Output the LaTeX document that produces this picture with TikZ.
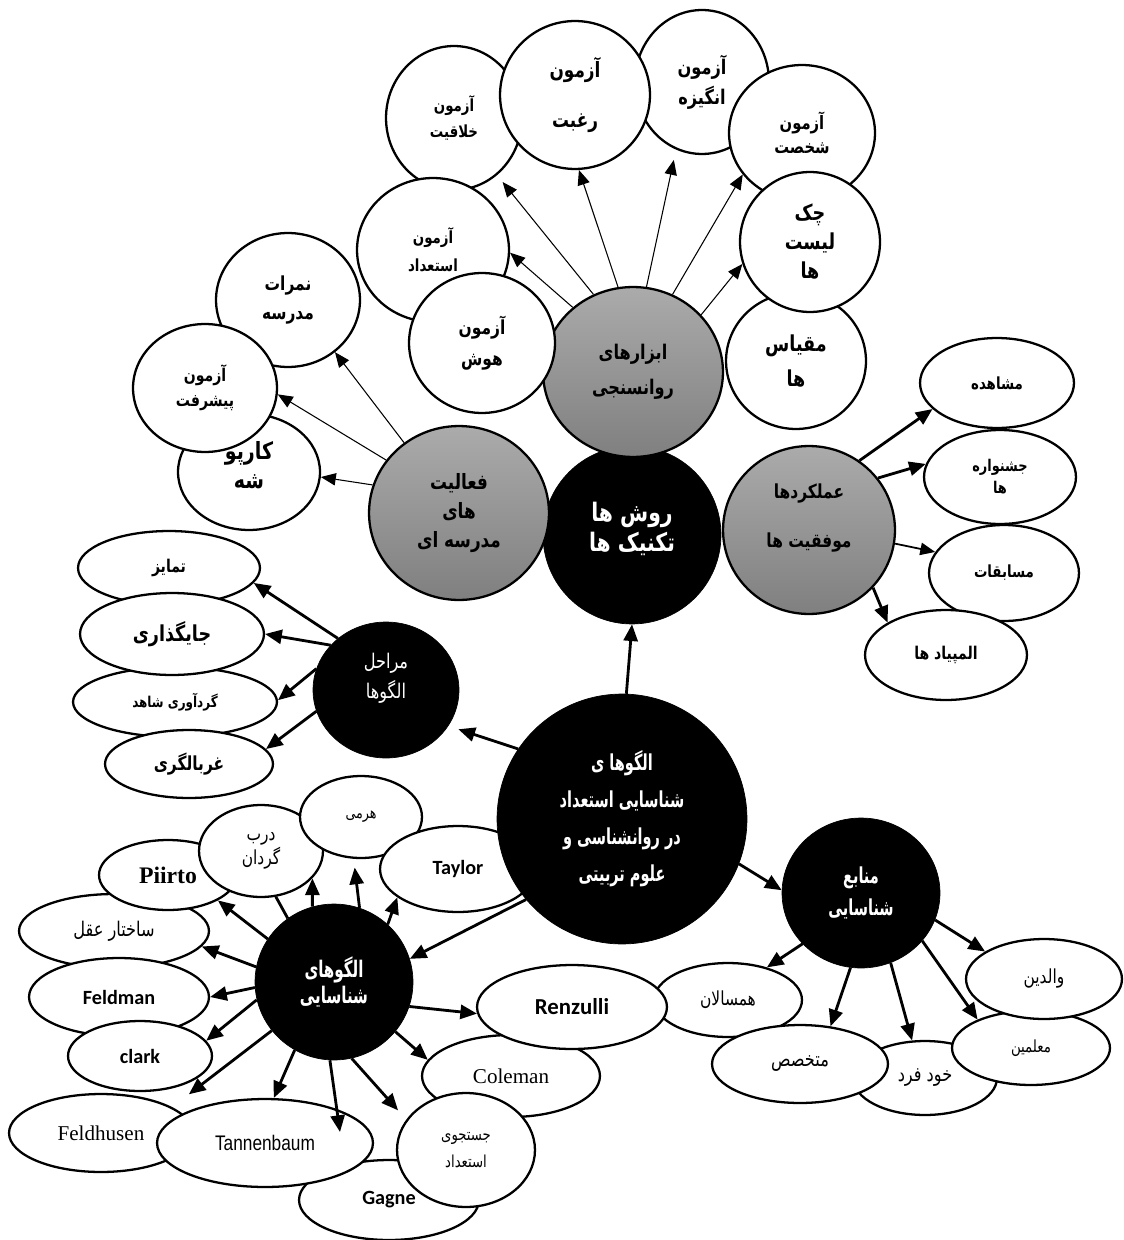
\documentclass[tikz,border=0pt]{standalone}
\usepackage{fontspec}
\setmainfont{Liberation Serif}
\newfontfamily\arabicfont[Script=Arabic, FakeStretch=0.8]{DejaVu Sans}
\newfontfamily\arabicnarrow[Script=Arabic, FakeStretch=0.66]{DejaVu Sans}
\newfontfamily\calfont{Carlito}
\newfontfamily\narrowfont[FakeStretch=0.82]{Liberation Sans}
\TeXXeTstate=1
\usetikzlibrary{arrows.meta, shapes.geometric}
\newcommand{\fa}[1]{\beginR #1\endR}
\newcommand{\fab}[2]{\arabicfont\bfseries\fontsize{#1}{#2}\selectfont}
\newcommand{\far}[2]{\arabicfont\fontsize{#1}{#2}\selectfont}
\newcommand{\fan}[2]{\arabicnarrow\bfseries\fontsize{#1}{#2}\selectfont}
\newcommand{\pxlen}{0.04cm}
\tikzstyle{bubble} = [% white ellipse node
  ellipse,
  draw=black,
  line width=1.3pt,
  fill=white,
  inner sep=0pt,
  align=center
  ]
\tikzstyle{grayhub} = [% shaded hub node
  ellipse,
  draw=black,
  line width=1.3pt,
  top color=black!33,
  bottom color=black!50,
  inner sep=0pt,
  align=center
  ]
\tikzstyle{blackhub} = [% black hub node
  ellipse,
  draw=black,
  fill=black,
  text=white,
  inner sep=0pt,
  align=center
  ]
\tikzstyle{thinarrow} = [% thin arrow format
  line width=0.6pt,
  -{Triangle[length=8.5pt,width=7pt]}
  ]
\tikzstyle{arrow} = [% thick arrow format
  line width=1.6pt,
  -{Triangle[length=9.5pt,width=8pt]}
  ]
\tikzstyle{plainline} = [% line with no tip
  line width=1.6pt
  ]
\tikzset{rxy/.style 2 args={minimum width=#1*\pxlen, minimum height=#2*\pxlen}}

\begin{document}
\begin{tikzpicture}[x=0.02cm, y=-0.02cm]
\useasboundingbox (0,0) rectangle (1123,1240);

%%% Nodes
% psychometric tools
\node[bubble, rxy={68}{72}, font=\fab{9.5}{15}] (xalaq) at (454,118) {\fa{آزمون}\\\fa{خلاقیت}};
\node[bubble, rxy={67}{72}, font=\fab{11.5}{17}] (angize) at (702,82) {\fa{آزمون}\\\fa{انگیزه}};
\node[bubble, rxy={75}{74}, font=\fab{12}{29}] (raqbat) at (575,95) {\fa{آزمون}\\\fa{رغبت}};
\node[bubble, rxy={73}{68}, font=\fab{10.5}{14}] (shakh) at (802,133) {\fa{آزمون}\\\fa{شخصت}};
\node[bubble, rxy={76}{72}, font=\fab{9.5}{16}] (estedad) at (433,250) {\fa{آزمون}\\\fa{استعداد}};
\node[blackhub, rxy={89}{89}, font=\fab{14.5}{17}, text depth=9pt] (ravesh) at (632,535) {\fa{روش ها}\\\fa{تکنیک ها}};
\node[grayhub, rxy={90}{85}, font=\fab{11.5}{20}] (abzar) at (633,372) {\fa{ابزارهای}\\\fa{روانسنجی}};
\node[bubble, rxy={73}{70}, font=\fab{11}{17.5}] (hush) at (482,343) {\fa{آزمون}\\\fa{هوش}};
\node[bubble, rxy={70}{68}, font=\fab{12.5}{20}] (meqyas) at (796,361) {\fa{مقیاس}\\\fa{ها}};
\node[bubble, rxy={70}{70}, font=\fab{12.5}{16.5}] (chek) at (810,242) {\fa{چک}\\\fa{لیست}\\\fa{ها}};

% school activities
\node[bubble, rxy={71}{58}, font=\fab{13.5}{17}, text depth=8pt] (karpushe) at (249,472) {\fa{کارپو}\\\fa{شه}};
\node[bubble, rxy={72}{67}, font=\fab{11}{17}] (nomre) at (288,300) {\fa{نمرات}\\\fa{مدرسه}};
\node[bubble, rxy={72}{64}, font=\fab{10}{14}] (pishraft) at (205,388) {\fa{آزمون}\\\fa{پیشرفت}};
\node[grayhub, rxy={90}{87}, font=\fab{12}{16.5}] (faal) at (459,513) {\fa{فعالیت}\\\fa{های}\\\fa{مدرسه ای}};

% performances
\node[grayhub, rxy={86}{84}, font=\fab{11}{28}, text depth=16pt] (amal) at (809,530) {\fa{عملکردها}\\\fa{موفقیت ها}};
\node[bubble, rxy={77}{45}, font=\fab{9.5}{12}] (moshahede) at (997,383) {\fa{مشاهده}};
\node[bubble, rxy={76}{47}, font=\fab{9.2}{12.5}] (jashnvare) at (1000,477) {\fa{جشنواره}\\\fa{ها}};
\node[bubble, rxy={75}{48}, font=\fab{9.5}{12}] (mosabeqat) at (1004,573) {\fa{مسابقات}};
\node[bubble, rxy={81}{45}, font=\fab{10}{12}] (olympiad) at (946,655) {\fa{المپیاد ها}};

% stages
\node[bubble, rxy={91}{37}, font=\fab{10}{12}] (tamayoz) at (169,568) {\fa{تمایز}};
\node[bubble, rxy={102}{35}, font=\fab{8.5}{10}] (gerdavari) at (175,702) {\fa{گردآوری شاهد}};
\node[bubble, rxy={92}{41}, font=\fab{12.5}{14}] (jaygozari) at (172,634) {\fa{جایگذاری}};
\node[bubble, rxy={84}{34}, font=\fab{11}{13}] (qarbal) at (189,764) {\fa{غربالگری}};
\node[blackhub, rxy={73}{68}, font=\far{11.5}{17}, text depth=16pt] (marahel) at (386,690) {\fa{مراحل}\\\fa{الگوها}};

% identification models
\node[bubble, rxy={95}{37}, font=\far{11.5}{12}] (sakhtar) at (114,931) {\fa{ساختار عقل}};
\node[bubble, rxy={69}{35}, font=\rmfamily\bfseries\fontsize{13.5}{15}\selectfont] (piirto) at (168,875) {Piirto};
\node[bubble, rxy={62}{46}, font=\far{11}{12.5}] (darb) at (261,851) {\fa{درب}\\\fa{گردان}};
\node[bubble, rxy={61}{41}, font=\far{9}{9}] (hermi) at (361,817) {\fa{هرمی}};
\node[bubble, rxy={78}{43}, font=\calfont\bfseries\fontsize{11.5}{13}\selectfont] (taylor) at (458,869) {Taylor};
\node[bubble, rxy={90}{39}, font=\calfont\bfseries\fontsize{11.5}{13}\selectfont] (feldman) at (119,997) {Feldman};
\node[bubble, rxy={72}{35}, font=\calfont\bfseries\fontsize{11.5}{13}\selectfont] (clark) at (140,1056) {clark};
\node[bubble, rxy={92}{39}, font=\rmfamily\fontsize{12}{14}\selectfont] (feldhusen) at (101,1133) {Feldhusen};
\node[bubble, rxy={90}{40}, font=\calfont\bfseries\fontsize{11.5}{13}\selectfont] (gagne) at (389,1200) {Gagne};
\node[bubble, rxy={108}{44}, font=\narrowfont\fontsize{12}{14}\selectfont] (tannen) at (265,1143) {Tannenbaum};
\node[bubble, rxy={89}{41}, font=\rmfamily\fontsize{12}{14}\selectfont] (coleman) at (511,1076) {Coleman};
\node[bubble, rxy={69}{57}, font=\far{9.4}{15}] (jostoju) at (466,1150) {\fa{جستجوی}\\\fa{استعداد}};
\node[bubble, rxy={74}{37}, font=\far{11}{12}] (hamsalan) at (728,1000) {\fa{همسالان}};
\node[bubble, rxy={95}{42}, font=\calfont\bfseries\fontsize{13}{15}\selectfont] (renzulli) at (572,1007) {Renzulli};
\node[blackhub, rxy={125}{125}, font=\fan{12.5}{21}] (main) at (622,819) {\fa{الگوها ی}\\\fa{شناسایی استعداد}\\\fa{در روانشناسی و}\\\fa{علوم تربیتی}};
\node[blackhub, rxy={79}{78}, font=\fan{13}{14.5}] (olgu) at (334,982) {\fa{الگوهای}\\\fa{شناسایی}};
\coordinate (tannentip) at (340,1132);

% sources
\node[bubble, rxy={72}{37}, font=\far{11.5}{12}] (khod) at (925,1078) {\fa{خود فرد}};
\node[bubble, rxy={88}{39}, font=\far{11.5}{12}] (motakhasses) at (800,1064) {\fa{متخصص}};
\node[bubble, rxy={79}{37}, font=\far{9.5}{12}] (moallemin) at (1031,1048) {\fa{معلمین}};
\node[bubble, rxy={78}{40}, font=\far{11}{12}] (valedein) at (1044,979) {\fa{والدین}};
\node[blackhub, rxy={79}{75}, font=\fan{12.5}{18}] (manabe) at (861,893) {\fa{منابع}\\\fa{شناسایی}};

%%% Arrows
\draw[thinarrow, shorten >=5pt] (abzar.117.9) -- (xalaq.-53.6);
\draw[thinarrow] (abzar.133.6) -- (estedad.-2.2);
\draw[thinarrow] (abzar.100.4) -- (raqbat.-87);
\draw[thinarrow, shorten >=6pt] (abzar.81.8) -- (angize.-111);
\draw[thinarrow] (abzar.63.4) -- (shakh.215.2);
\draw[thinarrow] (abzar.40.7) -- (chek.198);

\draw[thinarrow] (faal.128.2) -- (nomre.-48.3);
\draw[thinarrow] (faal.144.7) -- (pishraft.-5.6);
\draw[thinarrow] (faal.162.2) -- (karpushe.-4.1);

\draw[arrow] (amal.54.2) -- (moshahede.202.9);
\draw[arrow] (amal.37.3) -- (jashnvare.170.3);
\draw[thinarrow, line width=1pt] (amal.-9.9) -- (mosabeqat.163.4);
\draw[arrow] (amal.-42.6) -- (olympiad.151.1);

\draw[arrow] (main.88.6) -- (ravesh.-90);
\draw[arrow, shorten >=6pt] (main.146.8) -- (marahel.-30.8);
\draw[arrow] (main.-21.4) -- (manabe.178);
\draw[arrow] (main.220.3) -- (olgu.17.5);

\draw[arrow] (marahel.133.6) -- (tamayoz.-10.9);
\draw[arrow] (marahel.141.6) -- (jaygozari.0.6);
\draw[arrow] (marahel.163.4) -- (gerdavari.1.1);
\draw[arrow] (marahel.197.7) -- (qarbal.11.9);

\draw[arrow] (olgu.147.5) -- (piirto.-27);
\draw[arrow] (olgu.169.7) -- (sakhtar.-10.8);
\draw[arrow] (olgu.184.3) -- (feldman.-0.6);
\draw[arrow] (olgu.193.9) -- (clark.13.8);
\draw[arrow, shorten >=12pt] (olgu.218.9) -- (feldhusen.20.6);
\draw[arrow] (olgu.240.2) -- (tannen.79.7);
\draw[arrow] (olgu.267.2) -- (tannentip);
\draw[arrow, shorten >=7pt] (olgu.283.9) -- (jostoju.153.8);
\draw[arrow] (olgu.-39.4) -- (coleman.169.3);
\draw[arrow] (olgu.-18.4) -- (renzulli.184.6);
\draw[arrow] (olgu.47) -- (taylor.205.2);
\draw[arrow, shorten >=5pt] (olgu.71.6) -- (hermi.260);
\draw[arrow] (olgu.106.3) -- (darb.-28);
\draw[plainline] (olgu.126.6) -- (darb.-72);

\draw[arrow] (manabe.221.5) -- (hamsalan.40.2);
\draw[arrow] (manabe.262.9) -- (motakhasses.51.2);
\draw[arrow] (manabe.293.5) -- (khod.109.2);
\draw[arrow] (manabe.-38.3) -- (moallemin.152.6);
\draw[arrow] (manabe.-20.8) -- (valedein.155.9);

\end{tikzpicture}
\end{document}
